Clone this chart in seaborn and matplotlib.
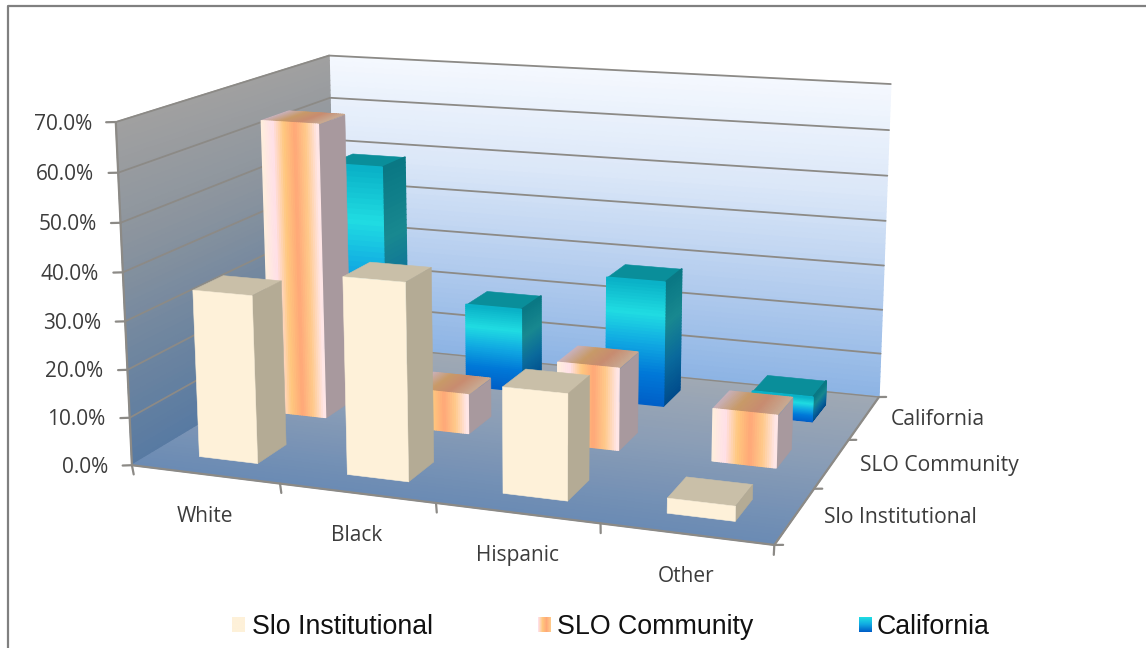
import numpy as np
import matplotlib
matplotlib.use("Agg")
import matplotlib.pyplot as plt
from matplotlib.lines import Line2D
from mpl_toolkits.mplot3d import proj3d
from mpl_toolkits.mplot3d.art3d import Poly3DCollection
import seaborn as sns

sns.set_theme(style="white")

categories = ["White", "Black", "Hispanic", "Other"]
series_names = ["Slo Institutional", "SLO Community", "California"]
slo_institutional = [35.0, 40.5, 21.5, 3.0]
slo_community = [64.0, 8.5, 17.5, 11.0]
california = [49.0, 19.0, 28.0, 5.5]
value_ticks = [0, 10, 20, 30, 40, 50, 60, 70]

W, H = 1146, 648
fig = plt.figure(figsize=(W / 100, H / 100), dpi=100, facecolor="white")
ax = fig.add_axes([316.18 / W, 172.41 / H, 402.77 / W, 402.77 / H], projection="3d")
ax.set_proj_type("persp", focal_length=1)
ax.computed_zorder = False
ax.set_xlim(0, 4, view_margin=0)
ax.set_ylim(0, 3, view_margin=0)
ax.set_zlim(0, 70, view_margin=0)
ax.set_xticks([])
ax.set_yticks([])
ax.set_zticks([])
ax.view_init(13.6218, -69.8362, 0.1410)
ax.set_box_aspect((1, 0.7341, 0.5287), zoom=np.exp(0.7276))
ax.set_axis_off()
ax.patch.set_alpha(0)

layer = 0


def next_layer():
    global layer
    layer += 1
    return layer


def strips(origin, du, dv, cols):
    """One box face cut into colour bands along du, so it reads as a gradient."""
    origin, du, dv = map(np.asarray, (origin, du, dv))
    n = len(cols)
    quads = []
    for k in range(n):
        a = origin + du * k / n
        b = origin + du * (k + 1) / n
        quads.append([a, b, b + dv, a + dv])
    width = 1.0 if n > 1 else 0.4
    pc = Poly3DCollection(quads, facecolors=cols, edgecolors=cols, linewidths=width)
    pc.set_zorder(next_layer())
    pc.set_clip_on(False)
    ax.add_collection3d(pc, autolim=False)


def line(a, b, lw=1.3, c="#8c8a86"):
    ax.plot(*zip(a, b), color=c, lw=lw, zorder=next_layer(),
            solid_capstyle="round", clip_on=False)


# walls and floor
back_grad = sns.blend_palette(["#8db4e4", "#b4cdee", "#dbe7f8", "#f4f8fe"], 60)
left_grad = sns.blend_palette(["#587aa2", "#70869f", "#8b949e", "#a0a0a0"], 60)
floor_grad = sns.blend_palette(["#6b8bb4", "#8a9db6", "#a0a9b4"], 60)
strips((0, 3, 0), (0, 0, 70), (4, 0, 0), back_grad)
strips((0, 0, 0), (0, 0, 70), (0, 3, 0), left_grad)
strips((0, 0, 0), (0, 3, 0), (4, 0, 0), floor_grad)

# gridlines, axis edges and tick marks
for v in value_ticks[1:]:
    line((0, 0, v), (0, 3, v))
    line((0, 3, v), (4, 3, v))
line((0, 0, 0), (4, 0, 0), 1.6)
line((4, 0, 0), (4, 3, 0), 1.6)
line((0, 0, 0), (0, 0, 70), 1.6)
line((0, 3, 0), (4, 3, 0), 1)
for v in value_ticks:
    line((0, 0, v), (-.05, -.025, v), 1.6)
for i in range(5):
    line((i, 0, 0), (i + .097 - .016 * i, -.15, 0), 1.6)
for j in range(4):
    line((4, j, 0), (4.045, j + .018, 0), 1.6)

comm_front = sns.blend_palette(["#ffeedd", "#ffe0e8", "#ffc87e", "#ffa878", "#ffc98a", "#ffe6e6"], 30)
comm_top = sns.blend_palette(["#c8b0b8", "#c89a68", "#c88c70", "#c8a890"], 30)
cal_front = sns.blend_palette(["#0060c8", "#0078d8", "#10a8e2", "#20dce2", "#0ab2c8"], 40)
cal_side = sns.blend_palette(["#004c8c", "#0a6a9c", "#188890", "#0a7884"], 40)
BAR_W, BAR_D = .4, .4

# bars, back row first and left to right so nearer boxes cover farther ones
rows = [slo_institutional, slo_community, california]
for j in (2, 1, 0):
    for i, val in enumerate(rows[j]):
        x, y = i + .3, j + .3
        if j == 0:
            strips((x, y, val), (BAR_W, 0, 0), (0, BAR_D, 0), ["#c9bfa8"])
            strips((x + BAR_W, y, 0), (0, BAR_D, 0), (0, 0, val), ["#b4ab95"])
            strips((x, y, 0), (BAR_W, 0, 0), (0, 0, val), ["#fef1d9"])
        elif j == 1:
            strips((x, y, val), (BAR_W, 0, 0), (0, BAR_D, 0), comm_top)
            strips((x + BAR_W, y, 0), (0, BAR_D, 0), (0, 0, val), ["#a8999e"])
            strips((x, y, 0), (BAR_W, 0, 0), (0, 0, val), comm_front)
        else:
            strips((x, y, val), (BAR_W, 0, 0), (0, BAR_D, 0), ["#0a8e9a"])
            strips((x + BAR_W, y, 0), (0, 0, val), (0, BAR_D, 0), cal_side)
            strips((x, y, 0), (0, 0, val), (BAR_W, 0, 0), cal_front)


TXT = "#3c3c3c"
FONT = "Open Sans"
camera = ax.get_proj()


def axis_label(pos, text, dx, dy, size, ha="center"):
    """Label a 3D position, placed through the projection with a pixel offset."""
    vx, vy, _ = proj3d.proj_transform(*pos, camera)
    ax.annotate(text, xy=(float(vx), float(vy)), xytext=(dx, dy), textcoords="offset pixels",
                ha=ha, va="center", fontsize=size, color=TXT, family=FONT,
                annotation_clip=False, zorder=next_layer())


for v in value_ticks:
    axis_label((0, 0, v), f"{v:.1f}%", -24, -2, 15, ha="right")
for i, c in enumerate(categories):
    axis_label((i + .5, 0, 0), c, 0, -42, 15)
for j, (c, dx) in enumerate(zip(series_names, (106, 107, 74))):
    axis_label((4, j + .5, 0), c, dx, -2, 15.2)

# chart frame
fig.add_artist(Line2D([8 / W, 8 / W, 1], [0, 1 - 6 / H, 1 - 6 / H], color="#808080", lw=1.6))

# legend
swatches = [["#fef1d9", "#fef1d9"], ["#ffe0e8", "#ffc87e", "#ffa878", "#ffc98a"],
            ["#20dce2", "#10a8e2", "#0060c8"]]
swatch_x = [232, 538, 859]
label_x = [252, 557, 877]
for k, name in enumerate(series_names):
    sax = fig.add_axes([swatch_x[k] / W, (H - 632) / H, 13 / W, 15 / H])
    pal = np.array(sns.blend_palette(swatches[k], 16))
    sax.imshow(pal[None, :, :3] if k == 1 else pal[:, None, :3], aspect="auto")
    sax.set_xticks([])
    sax.set_yticks([])
    sax.set_axis_off()
    fig.text(label_x[k] / W, (H - 627) / H, name, ha="left", va="center", fontsize=19.3,
             family="Liberation Sans", color="#111111")

fig.savefig("out.png", dpi=100)
